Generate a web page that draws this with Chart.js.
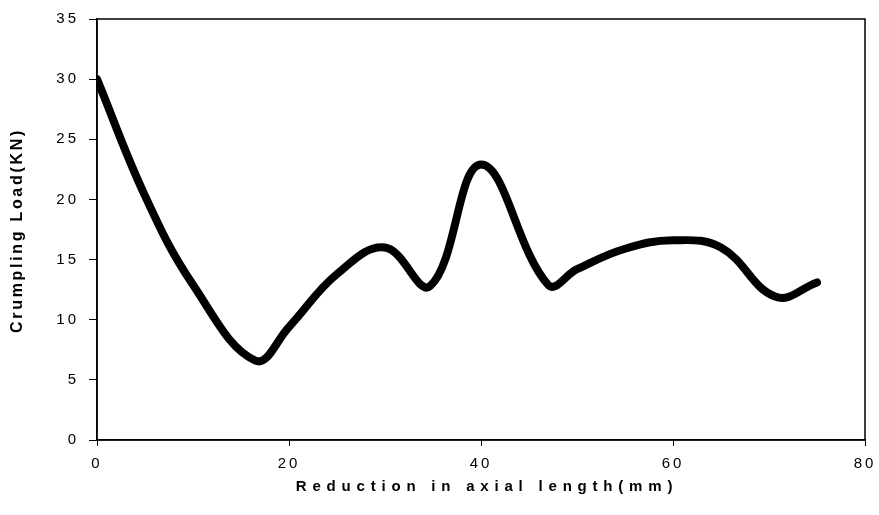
<!DOCTYPE html>
<html>
<head>
<meta charset="utf-8">
<script src="https://cdn.jsdelivr.net/npm/chart.js@4/dist/chart.umd.min.js"></script>
<style>
  html, body { margin: 0; padding: 0; background: #fff; }
  #wrap { width: 879px; height: 515px; }
</style>
</head>
<body>
<div id="wrap"><canvas id="crumple-chart" width="879" height="515"></canvas></div>
<script>
// reduction in axial length (mm) and crumpling load (kN)
const reduction = [0, 5, 10, 16.5, 20, 25, 30, 34.7, 40, 47, 50, 55, 60, 65, 70.7, 75];
const load = [30, 20.3, 12.9, 6.6, 9.4, 13.8, 16, 12.8, 22.9, 12.9, 14.2, 15.9, 16.6, 16, 11.9, 13.1];
const xTicks = [0, 20, 40, 60, 80];
const yTicks = [0, 5, 10, 15, 20, 25, 30, 35];
const xTitle = "Reduction in axial length(mm)";
const yTitle = "Crumpling Load(KN)";

const family = "'Liberation Sans', Arial, sans-serif";
const tickFont = { family, size: 15 };

// plot box frame (top and right edges)
const frame = {
  id: "frame",
  afterDatasetsDraw(chart) {
    const { ctx, chartArea: a } = chart;
    ctx.save();
    ctx.strokeStyle = "#000";
    ctx.lineWidth = 1.5;
    ctx.strokeRect(a.left, a.top, a.right - a.left, a.bottom - a.top);
    ctx.restore();
  }
};

// spaced-out tick labels
const spacing = {
  id: "spacing",
  beforeLayout(chart) { chart.ctx.letterSpacing = "3px"; }
};

// axis titles, drawn with their own letter spacing
const titles = {
  id: "titles",
  afterDraw(chart) {
    const { ctx, chartArea: a } = chart;
    ctx.save();
    ctx.fillStyle = "#000";
    ctx.textAlign = "center";
    ctx.textBaseline = "middle";
    ctx.font = "bold 15px " + family;
    ctx.letterSpacing = "5.8px";
    ctx.fillText(xTitle, (a.left + a.right) / 2 + 6, 487);
    ctx.font = "bold 16px " + family;
    ctx.letterSpacing = "2.7px";
    ctx.translate(18, (a.top + a.bottom) / 2 + 1);
    ctx.rotate(-Math.PI / 2);
    ctx.fillText(yTitle, 0, 0);
    ctx.restore();
  }
};

new Chart(document.getElementById("crumple-chart"), {
  type: "line",
  data: {
    datasets: [{
      data: reduction.map((x, i) => ({ x, y: load[i] })),
      borderColor: "#000",
      borderWidth: 8,
      pointRadius: 0,
      tension: 0.4,
      borderCapStyle: "round",
      borderJoinStyle: "round",
      fill: false
    }]
  },
  options: {
    responsive: false,
    animation: false,
    layout: { padding: { top: 16, right: 14, left: 0, bottom: 0 } },
    plugins: { legend: { display: false }, tooltip: { enabled: false } },
    scales: {
      x: {
        type: "linear",
        min: 0,
        max: 80,
        afterBuildTicks: s => { s.ticks = xTicks.map(v => ({ value: v })); },
        afterFit: s => { s.height = 75; s.paddingLeft = 0; s.paddingRight = 0; },
        border: { color: "#000", width: 1.5 },
        grid: { drawOnChartArea: false, tickLength: 6, color: "#000" },
        ticks: { color: "#000", font: tickFont, padding: 9, maxRotation: 0 }
      },
      y: {
        min: 0,
        max: 35,
        afterBuildTicks: s => { s.ticks = yTicks.map(v => ({ value: v })); },
        afterFit: s => { s.width = 97; },
        border: { color: "#000", width: 1.5 },
        grid: { drawOnChartArea: false, tickLength: 8, color: "#000" },
        ticks: { color: "#000", font: tickFont, padding: 10 }
      }
    }
  },
  plugins: [spacing, frame, titles]
});
</script>
</body>
</html>
